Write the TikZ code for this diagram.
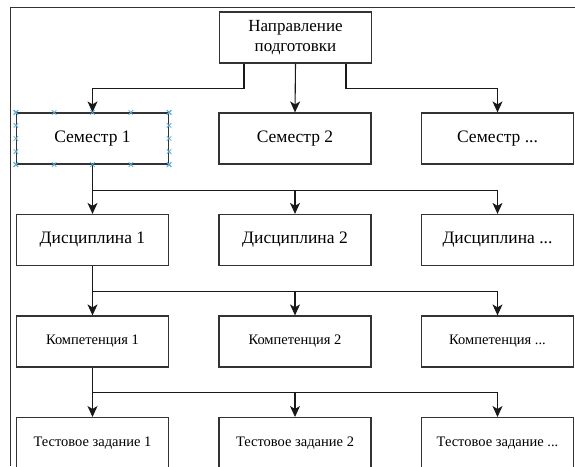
\documentclass[tikz,border=0pt]{standalone}
\usepackage{fontspec}
\setmainfont{Liberation Serif}
\usetikzlibrary{positioning}
\usetikzlibrary{calc}
\usetikzlibrary{arrows.meta}
\definecolor{edge}{RGB}{51,51,51}
\definecolor{handle}{RGB}{80,175,230}
\newcommand{\etcmark}{...}

\begin{document}
\begin{tikzpicture}[x=1pt, y=-1pt,
    box/.style={draw=edge, line width=1.2pt, minimum width=152pt, minimum height=51pt, inner sep=0pt, align=center},
    big/.style={font=\fontsize{17.5}{20}\selectfont},
    small/.style={font=\fontsize{14.5}{17}\selectfont},
    link/.style={draw=black!90, line width=1.1pt, -{Stealth[length=11pt, width=10pt, inset=3pt]}}]
    \useasboundingbox (0,0) rectangle (575,466);

    % frame of the page
    \draw[black!80, line width=0.9pt] (575,7) -| (10,466);

    % Top: direction
    \node[box, font=\fontsize{17}{20.5}\selectfont] (dir) at (295.5,37.5) {Направление\\подготовки};

    % Layer 1: semesters
    \foreach \i/\t in {1/1, 2/2, 3/\etcmark} {
        \node[box, big] (sem\i) at ({92.5+202.5*(\i-1)},138.5) {Семестр \t};
    }
    % Layer 2: disciplines
    \foreach \i/\t in {1/1, 2/2, 3/\etcmark} {
        \node[box, big] (dis\i) at ({92.5+202.5*(\i-1)},240) {Дисциплина \t};
    }
    % Layer 3: competences
    \foreach \i/\t in {1/1, 2/2, 3/\etcmark} {
        \node[box, small] (com\i) at ({92.5+202.5*(\i-1)},341.5) {Компетенция \t};
    }
    % Layer 4: test tasks (cut by the page edge)
    \foreach \i/\t in {1/1, 2/2, 3/\etcmark} {
        \node[box, small, anchor=north] (tst\i) at ({92.5+202.5*(\i-1)},417) {Тестовое задание \t};
    }

    % Links from the direction to semesters
    \coordinate (dl) at ([xshift=-51.5pt]dir.south);
    \coordinate (dr) at ([xshift=50.5pt]dir.south);
    \draw[link] (dl) -- ++(0,25) -| (sem1.north);
    \draw[link] (dir.south) -- (sem2.north);
    \draw[link] (dr) -- ++(0,25) -| (sem3.north);

    % Semester 1 -> disciplines
    \draw[link] (sem1.south) -- (dis1.north);
    \foreach \j in {2,3} {
        \draw[link] (sem1.south) -- ++(0,25.5) -| (dis\j.north);
    }
    % Discipline 1 -> competences
    \draw[link] (dis1.south) -- (com1.north);
    \foreach \j in {2,3} {
        \draw[link] (dis1.south) -- ++(0,25.5) -| (com\j.north);
    }
    % Competence 1 -> test tasks
    \draw[link] (com1.south) -- (tst1.north);
    \foreach \j in {2,3} {
        \draw[link] (com1.south) -- ++(0,25) -| (tst\j.north);
    }

    % selection handles on Semester 1
    \foreach \f in {0,0.25,0.5,0.75,1} {
        \foreach \p in {($(sem1.north west)!\f!(sem1.north east)$),
                        ($(sem1.south west)!\f!(sem1.south east)$),
                        ($(sem1.north west)!\f!(sem1.south west)$),
                        ($(sem1.north east)!\f!(sem1.south east)$)} {
            \draw[handle, line width=0.8pt] \p ++(-2.2,-2.2) -- ++(4.4,4.4) \p ++(-2.2,2.2) -- ++(4.4,-4.4);
        }
    }
\end{tikzpicture}
\end{document}
